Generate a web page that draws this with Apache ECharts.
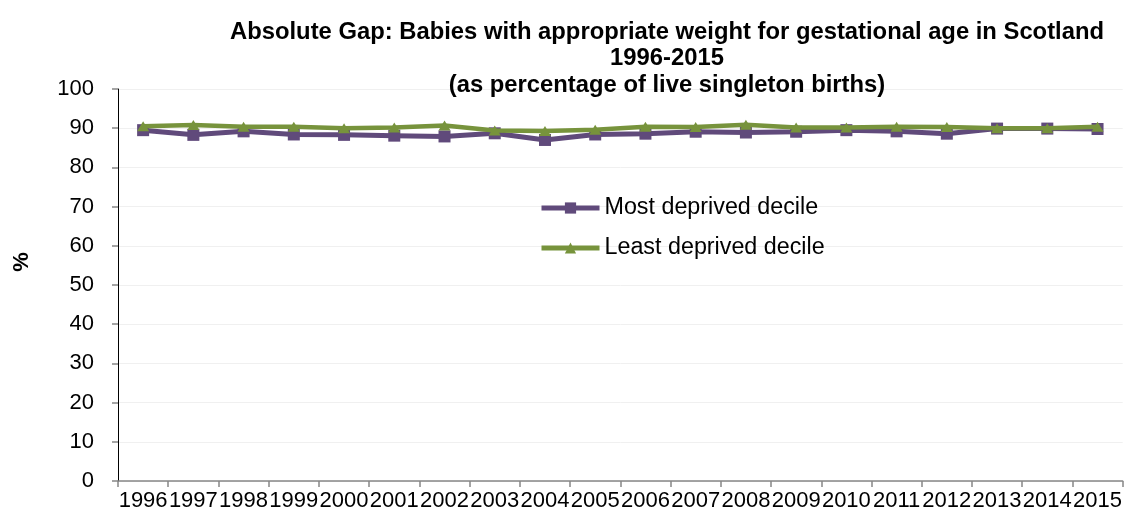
<!DOCTYPE html>
<html>
<head>
<meta charset="utf-8">
<title>Absolute Gap: Babies with appropriate weight for gestational age in Scotland</title>
<script src="https://cdn.jsdelivr.net/npm/echarts@6/dist/echarts.min.js"></script>
<style>
  html, body { margin: 0; padding: 0; background: #ffffff; }
  #chart { width: 1125px; height: 516px; }
</style>
</head>
<body>
<div id="chart"></div>
<script>
// Years shown along the horizontal axis
const years = ['1996', '1997', '1998', '1999', '2000', '2001', '2002', '2003', '2004', '2005',
               '2006', '2007', '2008', '2009', '2010', '2011', '2012', '2013', '2014', '2015'];

// Percentage of live singleton births with appropriate weight for gestational age
const mostDeprived  = [89.5, 88.3, 89.2, 88.4, 88.3, 88.1, 87.9, 88.7, 87.0, 88.4,
                       88.6, 89.1, 88.9, 89.1, 89.5, 89.2, 88.6, 89.9, 89.9, 89.8];
const leastDeprived = [90.5, 90.8, 90.4, 90.4, 90.0, 90.2, 90.7, 89.4, 89.3, 89.6,
                       90.4, 90.3, 90.9, 90.2, 90.2, 90.4, 90.3, 90.0, 90.0, 90.4];

const seriesNames = ['Most deprived decile', 'Least deprived decile'];
const titleLines = [
  'Absolute Gap: Babies with appropriate weight for gestational age in Scotland',
  '1996-2015',
  '(as percentage of live singleton births)'
];
const axisTitle = '%';

const PURPLE = '#604A7B';
const GREEN = '#77933C';
const FONT = 'Liberation Sans, Arial, sans-serif';

const chart = echarts.init(document.getElementById('chart'), null, { renderer: 'canvas' });

chart.setOption({
  animation: false,
  backgroundColor: '#ffffff',
  textStyle: { fontFamily: FONT },
  graphic: [
    {
      type: 'text',
      x: 667,
      y: 19,
      z: 100,
      style: {
        text: titleLines.join('\n'),
        fontFamily: FONT,
        fontSize: 23.8,
        fontWeight: 'bold',
        lineHeight: 26.5,
        fill: '#000000',
        textAlign: 'center'
      }
    },
    {
      type: 'text',
      x: 22,
      y: 262,
      z: 100,
      rotation: Math.PI / 2,
      style: {
        text: axisTitle,
        fontFamily: FONT,
        fontSize: 22,
        fontWeight: 'bold',
        fill: '#000000',
        textAlign: 'center',
        textVerticalAlign: 'middle'
      }
    }
  ],
  legend: {
    orient: 'vertical',
    left: 534,
    top: 191,
    itemWidth: 58,
    itemHeight: 14,
    itemGap: 16,
    lineStyle: { width: 5 },
    textStyle: { fontFamily: FONT, fontSize: 23.3, color: '#000000', lineHeight: 24 },
    data: seriesNames
  },
  grid: { left: 118, right: 2, top: 89, bottom: 35, containLabel: false },
  xAxis: {
    type: 'category',
    data: years,
    boundaryGap: true,
    axisLine: { lineStyle: { color: '#868686', width: 1.5 } },
    axisTick: { show: true, alignWithLabel: false, length: 6, lineStyle: { color: '#868686', width: 1.5 } },
    axisLabel: { interval: 0, fontFamily: FONT, fontSize: 22, color: '#000000', margin: 9 },
    splitLine: { show: false }
  },
  yAxis: {
    type: 'value',
    min: 0,
    max: 100,
    interval: 10,
    axisLine: { show: true, lineStyle: { color: '#000000', width: 1 } },
    axisTick: { show: true, length: 6, lineStyle: { color: '#868686', width: 1.5 } },
    axisLabel: { fontFamily: FONT, fontSize: 22, color: '#000000', margin: 24 },
    splitLine: { show: true, lineStyle: { color: '#f0f0f0', width: 1 } }
  },
  series: [
    {
      name: seriesNames[0],
      type: 'line',
      data: mostDeprived,
      symbol: 'rect',
      symbolSize: 12,
      showAllSymbol: true,
      itemStyle: { color: PURPLE },
      lineStyle: { color: PURPLE, width: 5 },
      z: 2
    },
    {
      name: seriesNames[1],
      type: 'line',
      data: leastDeprived,
      symbol: 'triangle',
      symbolSize: [12, 10],
      showAllSymbol: true,
      itemStyle: { color: GREEN },
      lineStyle: { color: GREEN, width: 4.5 },
      z: 3
    }
  ]
});
</script>
</body>
</html>
